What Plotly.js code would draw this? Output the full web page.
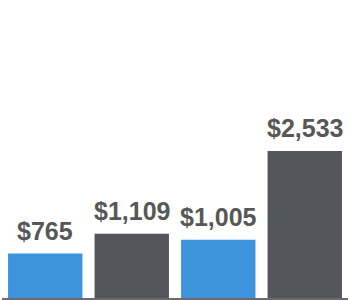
<!DOCTYPE html>
<html>
<head>
<meta charset="utf-8">
<script src="https://cdn.plot.ly/plotly-3.0.1.min.js"></script>
<style>html,body{margin:0;padding:0;background:#fff;}#chart{width:350px;height:300px;}</style>
</head>
<body>
<div id="chart"></div>
<script>
const categories = ["A", "B", "C", "D"];
const values = [765, 1109, 1005, 2533];
const labels = ["$765", "$1,109", "$1,005", "$2,533"];
const colors = ["#3d94dc", "#54565b", "#3d94dc", "#54565b"];

const trace = {
  type: "bar",
  x: categories,
  y: values,
  marker: {color: colors},
  hoverinfo: "none"
};

const annotations = categories.map((c, i) => ({
  x: c, y: values[i], xref: "x", yref: "y",
  text: labels[i], showarrow: false,
  yanchor: "bottom", yshift: 7,
  font: {family: "Liberation Sans, Arial, sans-serif", size: 25, color: "#575757", weight: "bold"}
}));

const layout = {
  width: 350, height: 300,
  margin: {l: 2, r: 2, t: 0, b: 2},
  paper_bgcolor: "#fff", plot_bgcolor: "#fff",
  bargap: 0.14,
  showlegend: false,
  xaxis: {showticklabels: false, showgrid: false, zeroline: false, showline: true, linecolor: "#6b6b6b", linewidth: 2, ticks: ""},
  yaxis: {range: [0, 5135], showticklabels: false, showgrid: false, zeroline: false, showline: false},
  annotations: annotations
};

Plotly.newPlot("chart", [trace], layout, {staticPlot: true, displayModeBar: false});
</script>
</body>
</html>
